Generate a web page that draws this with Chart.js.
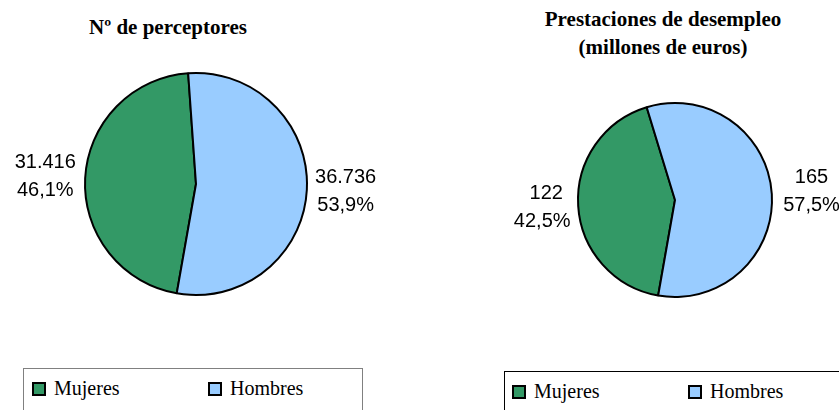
<!DOCTYPE html>
<html>
<head>
<meta charset="utf-8">
<script src="https://cdn.jsdelivr.net/npm/chart.js@4/dist/chart.umd.min.js"></script>
<style>
  body { margin:0; background:#fff; width:839px; height:410px; overflow:hidden; position:relative; }
  canvas { position:absolute; }
  .title { position:absolute; font-family:"Liberation Serif",serif; font-weight:bold;
           font-size:21px; color:#000; text-align:center; line-height:28px; white-space:nowrap; }
  .legend { position:absolute; box-sizing:border-box; height:60px; font-family:"Liberation Serif",serif;
            font-size:20px; color:#000; }
  .item { position:absolute; top:7px; white-space:nowrap; line-height:24px; }
  .sw { display:inline-block; width:10px; height:10px; border:2px solid #000; margin-right:8px; vertical-align:-1px; }
</style>
</head>
<body>
<div class="title" style="left:48px; top:13px; width:240px;">Nº de perceptores</div>
<div class="title" style="left:513px; top:5px; width:300px;">Prestaciones de desempleo<br>(millones de euros)</div>

<canvas id="c1" width="420" height="300" style="left:0; top:40px; width:420px; height:300px;"></canvas>
<canvas id="c2" width="419" height="300" style="left:420px; top:40px; width:419px; height:300px;"></canvas>

<div class="legend" style="left:23px; top:368px; width:340px; border:1px solid #808080;">
  <span class="item" style="left:8px;"><span class="sw" style="background:#339966"></span>Mujeres</span>
  <span class="item" style="left:184px;"><span class="sw" style="background:#99CCFF"></span>Hombres</span>
</div>
<div class="legend" style="left:504px; top:371px; width:345px; border:1px solid #000;">
  <span class="item" style="left:7px;"><span class="sw" style="background:#339966"></span>Mujeres</span>
  <span class="item" style="left:183px;"><span class="sw" style="background:#99CCFF"></span>Hombres</span>
</div>

<script>
// ── Datos ─────────────────────────────────────────────
const categories   = ['Mujeres', 'Hombres'];
const perceptores  = [31416, 36736];
const prestaciones = [122, 165];
const COLORS = ['#339966', '#99CCFF'];

function fmtMiles(n) { return String(n).replace(/\B(?=(\d{3})+(?!\d))/g, '.'); }
function fmtPct(v, total) { return (v / total * 100).toFixed(1).replace('.', ',') + '%'; }

// Etiquetas fuera del sector: valor + porcentaje
const outLabels = {
  id: 'outLabels',
  afterDatasetsDraw(chart, args, opts) {
    const { ctx } = chart;
    const meta = chart.getDatasetMeta(0);
    const data = chart.data.datasets[0].data;
    const total = data.reduce((s, v) => s + v, 0);
    ctx.save();
    ctx.fillStyle = '#000';
    ctx.textAlign = 'center';
    ctx.textBaseline = 'middle';
    ctx.font = '20px "Liberation Sans", Arial, sans-serif';
    meta.data.forEach((arc, i) => {
      const mid = (arc.startAngle + arc.endAngle) / 2;
      const r = arc.outerRadius * opts.factors[i];
      const x = arc.x + Math.cos(mid) * r;
      const y = arc.y + Math.sin(mid) * r;
      ctx.fillText(fmtMiles(data[i]), x, y - 14);
      ctx.fillText(fmtPct(data[i], total), x - (opts.shift ? opts.shift[i] : 0), y + 14);
    });
    ctx.restore();
  }
};

function pie(id, values, rotation, padding, factors, shift) {
  return new Chart(document.getElementById(id), {
    type: 'pie',
    data: {
      labels: categories,
      datasets: [{ data: values, backgroundColor: COLORS, borderColor: '#000', borderWidth: 2 }]
    },
    options: {
      responsive: false,
      animation: false,
      rotation: rotation,
      layout: { padding },
      plugins: {
        legend: { display: false },
        tooltip: { enabled: false },
        outLabels: { factors, shift }
      }
    },
    plugins: [outLabels]
  });
}

pie('c1', perceptores, 190, { left: 84, right: 112, top: 32, bottom: 44 }, [1.36, 1.35], [0, 0]);
pie('c2', prestaciones, 190, { left: 157, right: 66, top: 62, bottom: 42 }, [1.33, 1.41], [4, 0]);
</script>
</body>
</html>
